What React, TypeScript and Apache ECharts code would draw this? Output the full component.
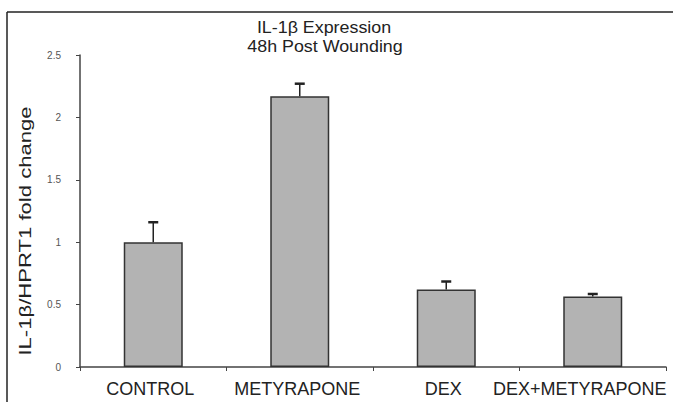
import React, { useEffect, useRef } from "react";
import * as echarts from "echarts";

const categories = ["CONTROL", "METYRAPONE", "DEX", "DEX+METYRAPONE"];
const means = [1.0, 2.17, 0.62, 0.565];
const upper = [1.16, 2.27, 0.685, 0.585];
const yTicks = ["0", "0.5", "1", "1.5", "2", "2.5"];
const titleLines = ["IL-1β Expression", "48h Post Wounding"];
const yName = "IL-1β/HPRT1 fold change";

export default function App() {
  const ref = useRef<HTMLDivElement>(null);
  useEffect(() => {
    if (!ref.current) return;
    const chart = echarts.init(ref.current, undefined, { renderer: "svg" });
    const font = "Liberation Sans, Arial, sans-serif";
    const errData = categories.map((c, i) => [i, means[i], upper[i]]);
    const labelPads = [[0, 6, 0, 0], [0, 5, 0, 0], [0, 6, 0, 0], [0, 26, 0, 0]];
    chart.setOption({
      animation: false,
      backgroundColor: "#ffffff",
      grid: { left: 80, right: 7, top: 55, bottom: 35, containLabel: false },
      graphic: [
        { type: "line", shape: { x1: 7, y1: 12, x2: 673, y2: 12 }, style: { stroke: "#222", lineWidth: 1.5 } },
        { type: "line", shape: { x1: 7, y1: 12, x2: 7, y2: 402 }, style: { stroke: "#222", lineWidth: 1.5 } },
        {
          type: "text", x: 324, y: 27, scaleX: 1.05,
          style: { text: titleLines[0], font: `17px ${font}`, fill: "#222", textAlign: "center", textVerticalAlign: "middle" },
        },
        {
          type: "text", x: 325, y: 46, scaleX: 1.05,
          style: { text: titleLines[1], font: `17px ${font}`, fill: "#222", textAlign: "center", textVerticalAlign: "middle" },
        },
        {
          type: "text", x: 25, y: 231, rotation: Math.PI / 2, scaleX: 1.3,
          style: { text: yName, font: `17px ${font}`, fill: "#222", textAlign: "center", textVerticalAlign: "middle" },
        },
      ],
      xAxis: {
        type: "category",
        data: categories.map((c, i) => ({ value: c, textStyle: { padding: labelPads[i] } })),
        axisLine: { lineStyle: { color: "#444", width: 1.5 } },
        axisTick: { show: true, length: 4, lineStyle: { color: "#444" } },
        axisLabel: { color: "#222", fontSize: 18, fontFamily: font, margin: 13, interval: 0 },
      },
      yAxis: {
        type: "value",
        min: 0,
        max: 2.5,
        interval: 0.5,
        splitLine: { show: false },
        axisLine: { show: true, lineStyle: { color: "#444", width: 1.5 } },
        axisTick: { show: true, length: 4, lineStyle: { color: "#444" } },
        axisLabel: {
          color: "#555", fontSize: 10, fontFamily: font, margin: 19,
          formatter: (v: number) => yTicks[Math.round(v / 0.5)] ?? String(v),
        },
      },
      series: [
        {
          type: "bar",
          data: means,
          barWidth: 59,
          itemStyle: { color: "#b3b3b3", borderColor: "#333", borderWidth: 1.5 },
          z: 2,
        },
        {
          type: "custom",
          data: errData,
          z: 3,
          renderItem: (params: any, api: any) => {
            const base = api.coord([api.value(0), api.value(1)]);
            const top = api.coord([api.value(0), api.value(2)]);
            const style = { stroke: "#222", lineWidth: 1.5 };
            return {
              type: "group",
              children: [
                { type: "line", shape: { x1: base[0], y1: base[1], x2: top[0], y2: top[1] }, style },
                { type: "line", shape: { x1: top[0] - 5, y1: top[1], x2: top[0] + 5, y2: top[1] }, style: { stroke: "#222", lineWidth: 2.5 } },
              ],
            };
          },
        },
      ],
    });
    return () => chart.dispose();
  }, []);
  return <div ref={ref} style={{ position: "fixed", left: 0, top: 0, width: 673, height: 402 }} />;
}
